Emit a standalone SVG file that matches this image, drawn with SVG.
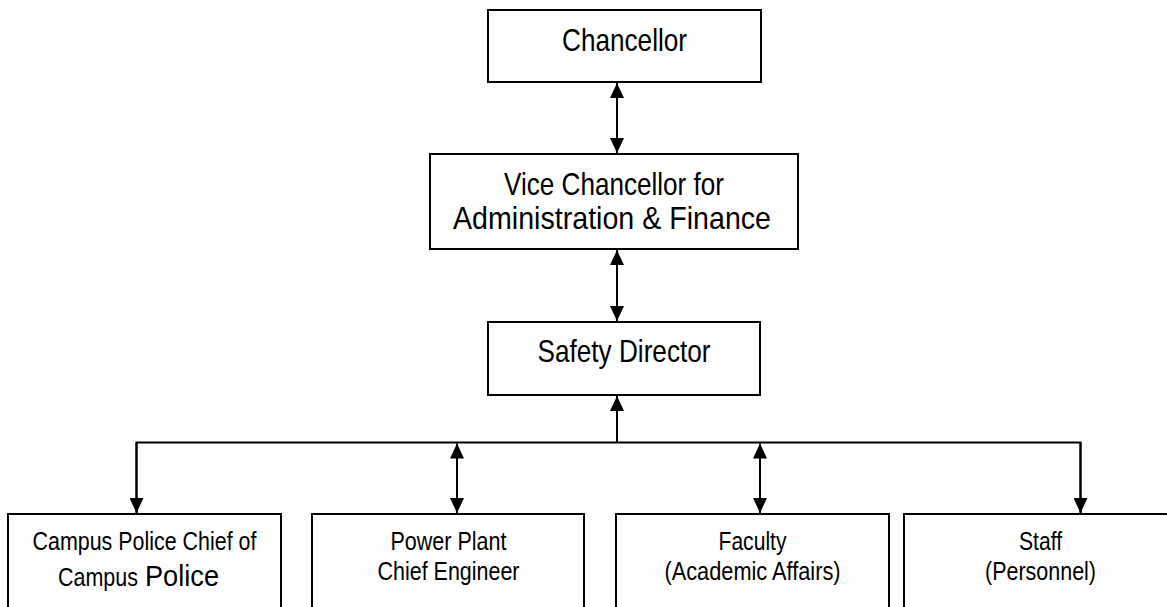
<svg xmlns="http://www.w3.org/2000/svg" width="1167" height="607" viewBox="0 0 1167 607">
<style>
.box{fill:#fff;stroke:#000;stroke-width:2}
.t{font-family:"Liberation Sans",Arial,sans-serif;fill:#000;text-anchor:middle}
.s{text-anchor:start}
.big{font-size:32px}
.sm{font-size:26px}
.mid{font-size:30px}
.c{fill:none;stroke:#000;stroke-width:2}
.a1{marker-end:url(#ah)}
.a2{marker-start:url(#ah);marker-end:url(#ah)}
</style>
<defs>
<marker id="ah" viewBox="0 0 15 14" refX="15" refY="7" markerWidth="15" markerHeight="14" markerUnits="userSpaceOnUse" orient="auto-start-reverse">
<path d="M0,0 L15,7 L0,14 z" fill="#000"/>
</marker>
</defs>
<rect width="1167" height="607" fill="#fff"/>
<g id="connectors">
<line class="c a2" x1="617" y1="83" x2="617" y2="153"/>
<line class="c a2" x1="617" y1="250" x2="617" y2="321"/>
<line class="c a1" x1="617" y1="443" x2="617" y2="396"/>
<polyline class="c" points="136.5,514 136.5,442.5 1080.5,442.5 1080.5,514"/>
<line class="c a1" x1="136.5" y1="442.5" x2="136.5" y2="513"/>
<line class="c a1" x1="1080.5" y1="442.5" x2="1080.5" y2="513"/>
<line class="c a2" x1="457" y1="443.5" x2="457" y2="513"/>
<line class="c a2" x1="760" y1="443.5" x2="760" y2="513"/>
</g>
<g id="chancellor">
<rect class="box" x="488" y="10" width="273" height="72"/>
<text class="t big" x="624.5" y="51" textLength="125" lengthAdjust="spacingAndGlyphs">Chancellor</text>
</g>
<g id="vice-chancellor">
<rect class="box" x="430" y="154" width="368" height="95"/>
<text class="t big" x="614" y="195" textLength="220" lengthAdjust="spacingAndGlyphs">Vice Chancellor for</text>
<text class="t big" x="612" y="229" textLength="318" lengthAdjust="spacingAndGlyphs">Administration &amp; Finance</text>
</g>
<g id="safety-director">
<rect class="box" x="488" y="322" width="272" height="73"/>
<text class="t big" x="624" y="362" textLength="173" lengthAdjust="spacingAndGlyphs">Safety Director</text>
</g>
<g id="campus-police">
<rect class="box" x="8" y="514" width="273" height="110"/>
<text class="t sm" x="144.5" y="550" textLength="224" lengthAdjust="spacingAndGlyphs">Campus Police Chief of</text>
<text class="t sm s" x="58" y="586" textLength="80" lengthAdjust="spacingAndGlyphs">Campus</text>
<text class="t mid s" x="145" y="586" textLength="74" lengthAdjust="spacingAndGlyphs">Police</text>
</g>
<g id="power-plant">
<rect class="box" x="312" y="514" width="272" height="110"/>
<text class="t sm" x="448.5" y="550" textLength="116" lengthAdjust="spacingAndGlyphs">Power Plant</text>
<text class="t sm" x="448.5" y="580" textLength="142" lengthAdjust="spacingAndGlyphs">Chief Engineer</text>
</g>
<g id="faculty">
<rect class="box" x="616" y="514" width="273" height="110"/>
<text class="t sm" x="752.5" y="550" textLength="68" lengthAdjust="spacingAndGlyphs">Faculty</text>
<text class="t sm" x="752.5" y="580" textLength="176" lengthAdjust="spacingAndGlyphs">(Academic Affairs)</text>
</g>
<g id="staff">
<rect class="box" x="904" y="514" width="273" height="110"/>
<text class="t sm" x="1040.5" y="550" textLength="43" lengthAdjust="spacingAndGlyphs">Staff</text>
<text class="t sm" x="1040.5" y="580" textLength="111" lengthAdjust="spacingAndGlyphs">(Personnel)</text>
</g>
</svg>
